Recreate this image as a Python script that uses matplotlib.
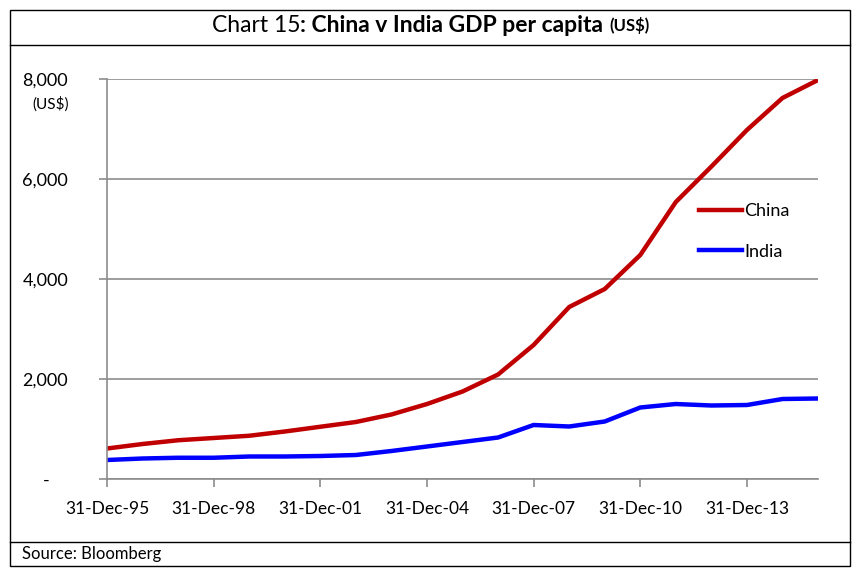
import datetime as dt
import matplotlib.pyplot as plt
import matplotlib.dates as mdates
from matplotlib.patches import Rectangle
from matplotlib.lines import Line2D

plt.rcParams['font.family'] = ['Lato', 'DejaVu Sans']

# data (US$ per capita, year-end)
years = list(range(1995, 2016))
china = [610, 700, 775, 820, 865, 950, 1045, 1140, 1290, 1500, 1750, 2090, 2680, 3440,
         3800, 4480, 5540, 6250, 6980, 7620, 7980]
india = [380, 410, 425, 425, 450, 450, 460, 480, 560, 650, 740, 830, 1080, 1050,
         1150, 1430, 1500, 1470, 1480, 1600, 1610]
tick_years = [1995, 1998, 2001, 2004, 2007, 2010, 2013]
y_ticks = [0, 2000, 4000, 6000, 8000]
y_labels = ['-    ', '2,000', '4,000', '6,000', '8,000']

dates = [dt.date(y, 12, 31) for y in years]

fig = plt.figure(figsize=(8.61, 5.77), dpi=100)
W, H = 861, 577

ax = fig.add_axes([107 / W, 1 - 479 / H, (818 - 107) / W, (479 - 79) / H])
grey = '#8c8c8c'
ax.plot(dates, china, color='#c00000', lw=3.2, solid_capstyle='butt')
ax.plot(dates, india, color='#0000ff', lw=3.2, solid_capstyle='butt')

ax.set_xlim(dates[0], dates[-1])
ax.set_ylim(0, 8000)
ax.set_yticks(y_ticks)
ax.set_yticklabels(y_labels)
ax.set_xticks([dt.date(y, 12, 31) for y in tick_years])
ax.xaxis.set_major_formatter(mdates.DateFormatter('%d-%b-%y'))
ax.grid(axis='y', color=grey, lw=1.2)
ax.set_axisbelow(True)
for s in ['top', 'right']:
    ax.spines[s].set_visible(False)
for s in ['left', 'bottom']:
    ax.spines[s].set_color(grey)
    ax.spines[s].set_linewidth(1.2)
ax.tick_params(axis='y', length=6, color=grey, width=1.2, pad=22, labelsize=13)
ax.tick_params(axis='x', length=6, color=grey, width=1.2, pad=10, labelsize=12.5)

fig.text(32 / W, 1 - 104 / H, '(US$)', fontsize=11, va='center', ha='left')

# legend
handles = [Line2D([], [], color='#c00000', lw=3.2), Line2D([], [], color='#0000ff', lw=3.2)]
ax.legend(handles, ['China', 'India'], loc='upper left', bbox_to_anchor=(0.81, 0.73),
          frameon=False, fontsize=13, handlelength=2.4, handletextpad=0.1, labelspacing=1.35)

# frame boxes
fig.add_artist(Rectangle((10 / W, 1 - 566 / H), 840 / W, 556 / H, fill=False,
                         ec='black', lw=1, transform=fig.transFigure))
fig.add_artist(Line2D([10 / W, 850 / W], [1 - 45 / H, 1 - 45 / H], color='black', lw=1))
fig.add_artist(Line2D([10 / W, 850 / W], [1 - 542 / H, 1 - 542 / H], color='black', lw=1))

# title, built from pieces with different weights
fig.canvas.draw()
r = fig.canvas.get_renderer()
parts = [('Chart 15', 'normal', 16.5), (': China v India GDP per capita ', 'bold', 16.5),
         ('(US$)', 'bold', 12)]
texts = []
widths = []
for s, w, fs in parts:
    t = fig.text(0, 1 - 26 / H, s, fontsize=fs, fontweight=w, va='center', ha='left')
    widths.append(t.get_window_extent(r).width)
    texts.append(t)
x0 = (W / 2 - sum(widths) / 2)
for t, wd in zip(texts, widths):
    t.set_x(x0 / W)
    x0 += wd

fig.text(22 / W, 1 - 554 / H, 'Source: Bloomberg', fontsize=12, va='center', ha='left')

fig.savefig('out.png', dpi=100)
